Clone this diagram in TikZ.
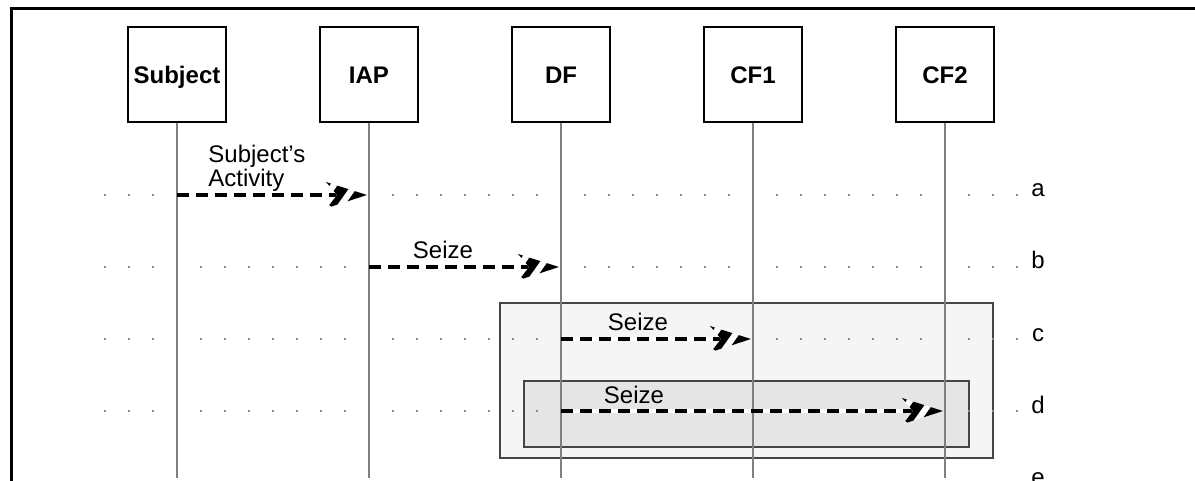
\documentclass[tikz,border=0pt]{standalone}
\usepackage{fontspec}
\setmainfont{Liberation Sans}
\definecolor{lifec}{HTML}{808080}
\definecolor{dotc}{HTML}{8A8A8A}
\definecolor{outerc}{HTML}{F5F5F5}
\definecolor{innerc}{HTML}{E5E5E5}
\definecolor{grpc}{HTML}{454545}
\newcommand\zarrow[2]{%
  \draw[zwhite] (#1) -- ([xshift=-15pt]#2);
  \draw[zdash] (#1) -- ([xshift=-15pt]#2);
  \begin{scope}[shift={(#2)},xshift=-1pt]
    \fill[white] (0,0) -- (-41,-13) -- (-30,0) -- (-40,13) -- cycle;
    \begin{scope}
      \clip (0,0) -- (-41,-13) -- (-30,0) -- (-40,13) -- cycle;
      \draw[black,line width=4pt] (-50.4,2) -- (-15.6,-47.2);
      \draw[black,line width=5.5pt] (-37.1,10.7) -- (-2.3,-38.5);
      \draw[black,line width=7pt] (-21.3,21.1) -- (13.5,-28.1);
    \end{scope}
  \end{scope}}
\begin{document}
\begin{tikzpicture}[x=0.5pt,y=-0.5pt,
  actor/.style={draw=black,line width=1pt,fill=white,minimum width=49pt,
    minimum height=47.5pt,inner sep=0pt,text height=8.6pt,text depth=0pt,
    font=\fontsize{12}{14}\selectfont\bfseries},
  life/.style={draw=lifec,line width=0.75pt},
  msg/.style={font=\fontsize{12}{11}\selectfont,inner sep=0pt},
  rowlab/.style={font=\fontsize{12}{14}\selectfont,inner sep=0pt,anchor=base},
  zwhite/.style={white,line width=2.2pt},
  zdash/.style={black,line width=2.2pt,dash pattern=on 6pt off 3.5pt},
  grp/.style={draw=grpc,line width=0.75pt}]
\useasboundingbox (0,0) rectangle (1195,481);
\clip (0,0) rectangle (1195,481);
\fill[white] (0,0) rectangle (1195,481);
\draw[black,line width=1.5pt] (11,500) -- (11,9) -- (1210,9);
% groups
\filldraw[grp,fill=outerc] (500,303) rectangle (993,458);
\filldraw[grp,fill=innerc] (524,381) rectangle (969,447);
% dotted row guides
\foreach \y in {195,267,339,411}
  \foreach \x in {105,129,...,1017}
    \fill[dotc] ({\x-0.8},{\y-0.8}) rectangle ++(1.6,1.6);
% actors
\node[actor] (sub) at (177,74.5) {Subject};
\node[actor] (iap) at (369,74.5) {IAP};
\node[actor] (df) at (561,74.5) {DF};
\node[actor] (cfa) at (753,74.5) {CF1};
\node[actor] (cfb) at (945,74.5) {CF2};
% lifelines
\foreach \n in {sub,iap,df,cfa,cfb}
  \draw[life] (\n.south) -- (\n.south |- 0,478);
% row labels
\node[rowlab] (ra) at (1038,197) {a};
\node[rowlab] (rb) at (1038,269) {b};
\node[rowlab] (rc) at (1038,341) {c};
\node[rowlab] (rd) at (1038,413) {d};
\node[rowlab] (re) at (1038,485) {e};
% message end points
\coordinate (a0) at (sub |- 0,195);
\coordinate (a1) at (iap |- 0,195);
\coordinate (b0) at (iap |- 0,267);
\coordinate (b1) at (df |- 0,267);
\coordinate (c0) at (df |- 0,339);
\coordinate (c1) at (cfa |- 0,339);
\coordinate (d0) at (df |- 0,411);
\coordinate (d1) at (cfb |- 0,411);
% messages
\zarrow{a0}{a1}
\zarrow{b0}{b1}
\zarrow{c0}{c1}
\zarrow{d0}{d1}
\node[msg,align=left,anchor=south west,text depth=0pt] (la) at (208,187) {Subject's\\Activity};
\node[msg,anchor=base] (lb) at (443,258) {Seize};
\node[msg,anchor=base] (lc) at (638,330) {Seize};
\node[msg,anchor=base] (ld) at (634,403) {Seize};
\end{tikzpicture}
\end{document}
